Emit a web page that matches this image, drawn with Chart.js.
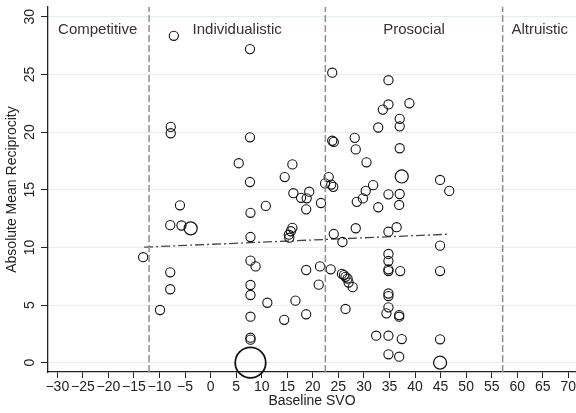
<!DOCTYPE html>
<html><head><meta charset="utf-8">
<script src="https://cdn.jsdelivr.net/npm/chart.js@4/dist/chart.umd.min.js"></script>
<style>html,body{margin:0;padding:0;background:#fff;}#wrap{width:576px;height:413px;}</style>
</head><body><div id="wrap"><canvas id="c" width="576" height="413"></canvas></div>
<script>
// Baseline SVO (x), absolute mean reciprocity (y), frequency weight of each marker
const svoX = [
  -13.2, -7.2, -7.8, -7.8, -6.0, -7.9, -5.7, -3.9, -7.9, -7.9, -9.9,
  7.7, 7.7, 5.5, 7.7, 7.8, 10.8, 7.8, 7.8, 8.8, 7.8, 7.8, 11.1, 7.8, 7.8, 7.8, 7.8,
  16.0, 14.5, 16.2, 17.7, 19.3, 18.8, 18.7, 21.6, 16.0, 15.7, 15.3, 15.4, 18.7, 21.4, 21.15, 16.6, 18.7, 14.4,
  23.8, 23.8, 24.1, 23.1, 22.4, 23.6, 24.0, 24.1, 25.8, 23.5, 25.7, 26.1, 26.4, 26.8, 27.0, 27.8, 26.4,
  28.2, 28.4, 30.5, 32.8, 33.7, 34.8, 34.8, 38.9, 37.0, 37.0, 37.0, 37.4, 31.8, 30.35, 29.8, 28.6, 32.8,
  34.8, 37.0, 36.9, 28.4, 36.4, 34.8, 34.8, 34.8, 34.8, 34.8, 37.1, 34.8, 34.8, 34.8, 34.4, 36.9, 36.9,
  32.4, 34.8, 37.4, 34.8, 36.9, 44.9, 46.7, 44.9, 44.9, 44.9, 44.9
];
const reciprocity = [
  9.15, 28.35, 20.45, 19.9, 13.65, 11.93, 11.9, 11.65, 7.84, 6.37, 4.57,
  27.2, 19.55, 17.3, 15.67, 13.0, 13.6, 10.9, 8.85, 8.35, 6.74, 5.87, 5.2, 3.99, 2.17, 2.0, 0.0,
  17.2, 16.1, 14.7, 14.3, 14.83, 14.26, 13.3, 13.85, 11.7, 11.4, 11.1, 10.84, 8.04, 8.35, 6.77, 5.38, 4.2, 3.72,
  25.15, 19.25, 19.15, 16.1, 15.55, 15.45, 15.25, 11.16, 10.47, 8.1, 7.7, 7.6, 7.45, 7.3, 6.95, 6.55, 4.66,
  19.5, 18.5, 17.38, 20.4, 21.95, 22.4, 24.5, 22.5, 21.15, 20.5, 18.6, 16.15, 15.4, 14.9, 14.25, 13.95, 13.48,
  14.6, 14.63, 13.68, 11.66, 11.75, 11.36, 9.43, 8.82, 8.1, 7.95, 7.95, 6.0, 5.78, 4.8, 4.28, 4.13, 3.99,
  2.34, 2.34, 2.05, 0.73, 0.52, 15.85, 14.9, 10.15, 7.95, 2.03, 0.0
];
const weights = [
  1, 1, 1, 1, 1, 1, 1, 2, 1, 1, 1,
  1, 1, 1, 1, 1, 1, 1, 1, 1, 1, 1, 1, 1, 1, 1, 11,
  1, 1, 1, 1, 1, 1, 1, 1, 1, 1, 1, 1, 1, 1, 1, 1, 1, 1,
  1, 1, 1, 1, 1, 1, 1, 1, 1, 1, 1, 1, 1, 1, 1, 1, 1,
  1, 1, 1, 1, 1, 1, 1, 1, 1, 1, 1, 2, 1, 1, 1, 1, 1,
  1, 1, 1, 1, 1, 1, 1, 1, 1, 1, 1, 1, 1, 1, 1, 1, 1,
  1, 1, 1, 1, 1, 1, 1, 1, 1, 1, 2
];
// Linear fit line end points
const fitX = [-13.0, 46.85];
const fitY = [10.02, 11.15];
// SVO category boundaries and names
const boundaries = [-12.04, 22.45, 57.15];
const regionNames = ['Competitive', 'Individualistic', 'Prosocial', 'Altruistic'];
const regionCenters = [-22.1, 5.2, 39.8, 64.4];
const xTicks = [-30, -25, -20, -15, -10, -5, 0, 5, 10, 15, 20, 25, 30, 35, 40, 45, 50, 55, 60, 65, 70];
const yTicks = [0, 5, 10, 15, 20, 25, 30];

const X_MIN = -31.82, X_MAX = 71.5, Y_MIN = -0.807, Y_MAX = 30.85;
const FONT = "'Liberation Sans', Arial, Helvetica, sans-serif";
const fmt = v => v < 0 ? '\u2212' + Math.abs(v) : String(v);

const pointData = svoX.map((x, i) => ({x: x, y: reciprocity[i]}));
const fitData = fitX.map((x, i) => ({x: x, y: fitY[i]}));

const datasets = [];
boundaries.forEach(b => {
  datasets.push({
    data: [{x: b, y: Y_MIN}, {x: b, y: Y_MAX}],
    showLine: true, pointRadius: 0, borderColor: '#8f8f8f', borderWidth: 1.5,
    borderDash: [7, 3], fill: false, clip: false
  });
});
datasets.push({
  data: pointData,
  showLine: false,
  pointRadius: ctx => 4.6 * Math.sqrt(weights[ctx.dataIndex] || 1),
  pointHoverRadius: ctx => 4.6 * Math.sqrt(weights[ctx.dataIndex] || 1),
  pointBorderWidth: ctx => 1.1 + 0.3 * (Math.sqrt(weights[ctx.dataIndex] || 1) - 1),
  pointBackgroundColor: 'rgba(0,0,0,0)',
  pointBorderColor: '#111',
  clip: false
});
datasets.push({
  data: fitData,
  showLine: true, pointRadius: 0, borderColor: '#444', borderWidth: 1.3,
  borderDash: [9, 3, 2, 3], fill: false
});

const labelPlugin = {
  id: 'labels',
  afterDraw(chart) {
    const ctx = chart.ctx, xs = chart.scales.x, ys = chart.scales.y;
    ctx.save();
    ctx.fillStyle = '#333';
    ctx.font = '15px ' + FONT;
    ctx.textAlign = 'center';
    ctx.textBaseline = 'middle';
    regionNames.forEach((n, i) => {
      ctx.fillText(n, xs.getPixelForValue(regionCenters[i]), ys.getPixelForValue(28.9));
    });
    ctx.fillStyle = '#222';
    ctx.font = '14px ' + FONT;
    yTicks.forEach(v => {
      ctx.save();
      ctx.translate(30, ys.getPixelForValue(v));
      ctx.rotate(-Math.PI / 2);
      ctx.fillText(fmt(v), 0, 0);
      ctx.restore();
    });
    ctx.restore();
  }
};

new Chart(document.getElementById('c'), {
  type: 'scatter',
  data: {datasets: datasets},
  options: {
    responsive: false, animation: false, devicePixelRatio: 1,
    layout: {autoPadding: false, padding: {top: 7, right: 0, left: 0, bottom: 0}},
    plugins: {legend: {display: false}, tooltip: {enabled: false}},
    scales: {
      x: {
        type: 'linear', min: X_MIN, max: X_MAX,
        afterBuildTicks: s => { s.ticks = xTicks.map(v => ({value: v})); },
        afterFit: s => { s.height = 41; s.paddingLeft = 0; s.paddingRight = 0; },
        ticks: {autoSkip: false, maxRotation: 0, minRotation: 0, padding: 1, color: '#222',
                font: {size: 14, family: FONT}, callback: v => fmt(v)},
        grid: {drawOnChartArea: false, drawTicks: true, tickLength: 6, tickColor: '#222', tickWidth: 1},
        border: {display: true, color: '#222', width: 1.3},
        title: {display: true, text: 'Baseline SVO', color: '#222', font: {size: 14, family: FONT},
                padding: {top: 0, bottom: 3}}
      },
      y: {
        type: 'linear', min: Y_MIN, max: Y_MAX,
        afterBuildTicks: s => { s.ticks = yTicks.map(v => ({value: v})); },
        afterFit: s => { s.width = 48; s.paddingTop = 0; s.paddingBottom = 0; },
        ticks: {display: false},
        grid: {color: '#e4eeef', lineWidth: 1, drawTicks: true, tickLength: 7, tickColor: '#222', tickWidth: 1},
        border: {display: true, color: '#222', width: 1.3},
        title: {display: true, text: 'Absolute Mean Reciprocity', color: '#222', font: {size: 14, family: FONT},
                padding: {top: 4, bottom: 0}}
      }
    }
  },
  plugins: [labelPlugin]
});
</script>
</body></html>
